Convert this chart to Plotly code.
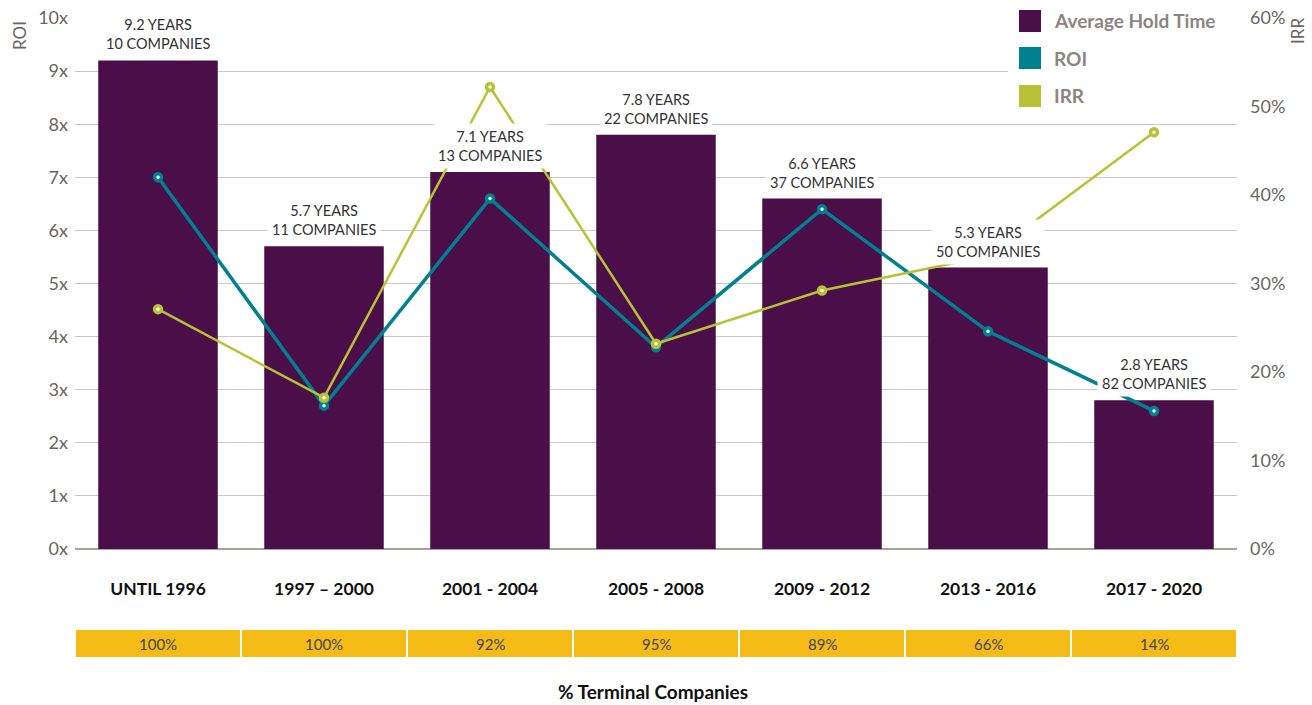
import plotly.graph_objects as go

categories = ["UNTIL 1996", "1997 – 2000", "2001 - 2004", "2005 - 2008", "2009 - 2012", "2013 - 2016", "2017 - 2020"]
hold_years = [9.2, 5.7, 7.1, 7.8, 6.6, 5.3, 2.8]
companies = [10, 11, 13, 22, 37, 50, 82]
roi = [7.0, 2.7, 6.6, 3.8, 6.4, 4.1, 2.6]
irr = [27.1, 17.1, 52.2, 23.2, 29.2, 33.1, 47.1]
terminal = ["100%", "100%", "92%", "95%", "89%", "66%", "14%"]
roi_ticks = [0, 1, 2, 3, 4, 5, 6, 7, 8, 9, 10]
irr_ticks = [0, 10, 20, 30, 40, 50, 60]

BAR = "#4a0e48"
TEAL = "#00818f"
LIME = "#b7c334"
YELLOW = "#f5bc18"
FONT = "Lato"
TICKC = "#6b6560"

fig = go.Figure()
fig.add_trace(go.Bar(x=categories, y=hold_years, marker_color=BAR, marker_line_width=0,
                     name="Average Hold Time", hoverinfo="skip"))
fig.add_trace(go.Scatter(x=categories, y=roi, mode="lines+markers", name="ROI",
                         line=dict(color=TEAL, width=3.5),
                         marker=dict(size=7, color="white", line=dict(color=TEAL, width=3.5))))
fig.add_trace(go.Scatter(x=categories, y=irr, mode="lines+markers", name="IRR", yaxis="y2",
                         line=dict(color=LIME, width=2.5),
                         marker=dict(size=7, color="white", line=dict(color=LIME, width=3.5))))

shapes = []
annotations = []

# bar labels
for c, h, n in zip(categories, hold_years, companies):
    annotations.append(dict(x=c, y=h, xref="x", yref="y", yanchor="bottom", yshift=3,
                            text=f"{h} YEARS<br>{n} COMPANIES", showarrow=False,
                            font=dict(family=FONT, size=14.5, color="#333333"),
                            bgcolor="white", borderpad=4))

# custom legend with white background
shapes.append(dict(type="rect", xref="paper", yref="paper", x0=(1008 - 75) / 1162, x1=1.0,
                   y0=(549 - 114) / 531, y1=1.04, fillcolor="white", line_width=0, layer="above"))
leg_items = [("Average Hold Time", BAR, 21), ("ROI", TEAL, 58), ("IRR", LIME, 96)]
for name, col, yc in leg_items:
    shapes.append(dict(type="rect", xref="paper", yref="paper",
                       x0=(1019 - 75) / 1162, x1=(1041 - 75) / 1162,
                       y0=(549 - yc - 11) / 531, y1=(549 - yc + 11) / 531,
                       fillcolor=col, line_width=0, layer="above"))
    annotations.append(dict(x=(1052 - 75) / 1162, y=(549 - yc) / 531, xref="paper", yref="paper",
                            xanchor="left", yanchor="middle", text=f"<b>{name}</b>", showarrow=False,
                            font=dict(family=FONT, size=19, color="#8c8580")))

# terminal companies row
for i, (c, t) in enumerate(zip(categories, terminal)):
    shapes.append(dict(type="rect", xref="x", yref="paper", x0=i - 0.5 + 0.006, x1=i + 0.5 - 0.006,
                       y0=(549 - 657) / 531, y1=(549 - 630) / 531,
                       fillcolor=YELLOW, line_width=0, layer="above"))
    annotations.append(dict(x=c, y=(549 - 643.5) / 531, xref="x", yref="paper", text=t,
                            xanchor="center", yanchor="middle",
                            showarrow=False, font=dict(family=FONT, size=15, color="#444444")))

annotations.append(dict(x=(653 - 75) / 1162, y=(549 - 691) / 531, xref="paper", yref="paper",
                        xanchor="center", yanchor="middle",
                        text="<b>% Terminal Companies</b>", showarrow=False,
                        font=dict(family=FONT, size=19, color="#111111")))
annotations.append(dict(x=(19 - 75) / 1162, y=(549 - 36) / 531, xref="paper", yref="paper",
                        xanchor="center", yanchor="middle",
                        text="ROI", textangle=-90, showarrow=False,
                        font=dict(family=FONT, size=17, color=TICKC)))
annotations.append(dict(x=(1297 - 75) / 1162, y=(549 - 31) / 531, xref="paper", yref="paper",
                        xanchor="center", yanchor="middle",
                        text="IRR", textangle=-90, showarrow=False,
                        font=dict(family=FONT, size=17, color=TICKC)))

fig.update_layout(
    width=1312, height=705,
    margin=dict(l=75, r=75, t=18, b=156),
    paper_bgcolor="white", plot_bgcolor="white",
    showlegend=False, bargap=0.28,
    font=dict(family=FONT),
    xaxis=dict(showgrid=False, showline=False, ticks="", zeroline=False, automargin=False,
               tickfont=dict(family=FONT, size=17.5, color="#111111"),
               tickvals=categories, ticktext=[f"<b>{c}</b>" for c in categories],
               ticklabelstandoff=27),
    yaxis=dict(range=[0, 10], tickvals=roi_ticks, ticktext=[f"{v}x" for v in roi_ticks],
               showgrid=True, gridcolor="#cdc9c3", gridwidth=1, automargin=False,
               zeroline=True, zerolinecolor="#a8a29c", zerolinewidth=2,
               showline=False, ticks="", ticklabelstandoff=6,
               tickfont=dict(family=FONT, size=18, color=TICKC)),
    yaxis2=dict(range=[0, 60], overlaying="y", side="right", tickvals=irr_ticks, automargin=False,
                ticktext=[f"{v}%" for v in irr_ticks], showgrid=False, zeroline=False,
                showline=False, ticks="", ticklabelstandoff=12,
                tickfont=dict(family=FONT, size=18, color=TICKC)),
    shapes=shapes, annotations=annotations,
)

fig.write_html("out.html", config={"displayModeBar": False},
               post_script="document.body.style.margin='0px';document.body.style.overflow='hidden';")
